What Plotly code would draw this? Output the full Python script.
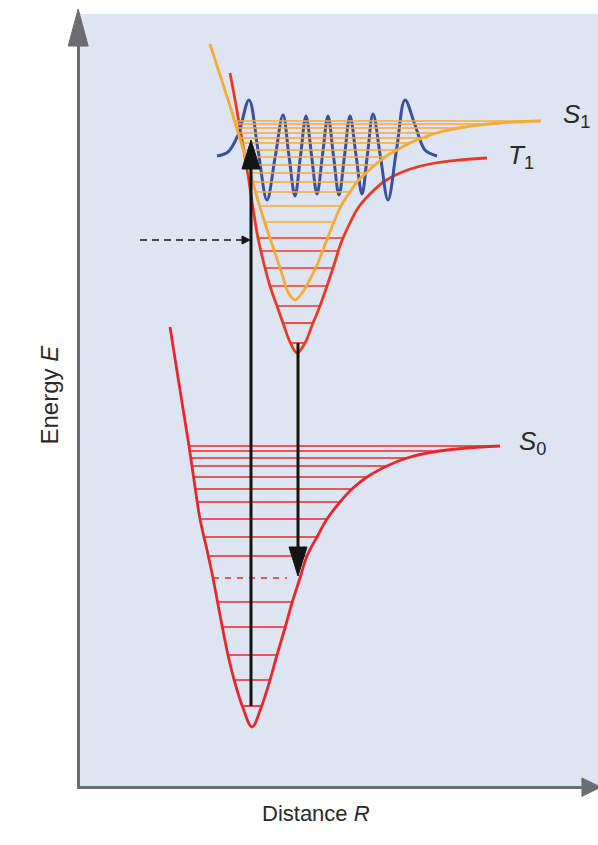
import plotly.graph_objects as go

# ---------------- data (R = distance units, E = energy units) ----------------
# Ground singlet S0 potential curve
s0_R = [90, 100, 109, 114, 120, 127, 133, 140, 148, 155, 163, 172, 181, 190, 197, 205, 212,
        220, 227, 237, 247, 260, 272, 287, 307, 327, 353, 387, 420]
s0_E = [459, 396, 340, 306, 267, 236, 208, 171, 131, 103, 78, 59, 78, 106, 131, 158, 183,
        208, 230, 249, 267, 284, 297, 309, 320, 328, 334, 338, 340]
# S0 vibrational levels
s0_lv_E = [340, 335, 328, 320, 309, 297, 284, 267, 249, 230, 184, 159, 131, 106, 80]
s0_lv_Rl = [109, 109, 110, 111, 113, 115, 117, 120, 125, 129, 137, 142, 148, 155, 162]
s0_lv_Rr = [420, 353, 327, 307, 287, 272, 260, 247, 237, 227, 212, 205, 197, 190, 182]
# dashed S0 level (emission target)
s0_dash_E = [208]
s0_dash_Rl = [133]
s0_dash_Rr = [207]

# Triplet T1 potential curve
t1_R = [150, 156, 162, 168, 173, 178, 184, 190, 197, 203, 210, 217, 225, 233, 240, 247, 254,
        261, 269, 278, 290, 305, 325, 350, 380, 407]
t1_E = [713, 681, 646, 611, 578, 548, 522, 500, 480, 463, 444, 433, 443, 463, 480, 500, 521,
        543, 561, 578, 592, 605, 615, 622, 626, 628]
t1_lv_E = [548, 535, 518, 500, 480, 463, 443]
t1_lv_Rl = [178, 180, 185, 190, 197, 203, 210]
t1_lv_Rr = [262, 259, 253, 247, 241, 234, 226]

# Excited singlet S1 potential curve
s1_R = [130, 140, 150, 160, 168, 175, 183, 193, 203, 208, 215, 222, 228, 237, 246, 254, 261,
        270, 277, 286, 295, 305, 317, 330, 345, 360, 385, 420, 461]
s1_E = [742, 711, 680, 647, 621, 596, 569, 539, 509, 494, 486, 493, 503, 521, 544, 564, 580,
        594, 604, 613, 621, 629, 636, 643, 649, 654, 659, 663, 665]
s1_lv_E = [665, 662, 658, 653, 648, 643, 636, 629, 621, 613, 604, 594, 580, 564]
s1_lv_Rl = [154, 155, 156, 158, 159, 161, 163, 165, 168, 170, 173, 176, 180, 185]
s1_lv_Rr = [461, 418, 383, 360, 348, 330, 317, 305, 295, 286, 277, 270, 261, 254]

# Vibrational wavefunction (blue): tails, peaks, troughs and crossings
wf_R = [137, 148, 158, 169, 178, 187, 195, 203, 209, 215, 220.5, 226, 231.5, 237, 242.5, 248,
        253.5, 259, 264.5, 270, 276, 282, 287.5, 293, 300.5, 308, 316.5, 325, 335, 345, 357]
wf_E = [630, 634, 651, 686, 636, 586, 628, 671, 630, 590, 630, 670, 631, 592, 631, 670,
        630, 591, 630, 670, 631, 592, 632, 672, 629, 586, 636, 686, 661, 636, 630]

# Transitions: absorption (up) and phosphorescence (down)
arrow_R = [171, 218]
arrow_E_start = [80, 443]
arrow_E_end = [646, 210]
# Intersystem-crossing dashed arrow
isc_E = 546
isc_R_start = 60
isc_R_end = 170

# Labels
label_text = ["<i>S</i><sub>1</sub>", "<i>T</i><sub>1</sub>", "<i>S</i><sub>0</sub>"]
label_R = [496, 441, 452]
label_E = [671, 630, 344]

# ---------------- styles ----------------
RED = "#e8262b"
RED2 = "#ea3a25"
ORANGE = "#f5ab35"
BLUE = "#3d4f9f"
BLACK = "#141414"
GRAY = "#6b6d70"
BG = "#dde5f2"
TXT = "#2a2a2a"
FONT = "Liberation Sans, Arial, sans-serif"


def level_xy(E, Rl, Rr):
    xs, ys = [], []
    for e, a, b in zip(E, Rl, Rr):
        xs += [a, b, None]
        ys += [e, e, None]
    return xs, ys


fig = go.Figure()

# S0 levels + curve
x, y = level_xy(s0_lv_E, s0_lv_Rl, s0_lv_Rr)
fig.add_trace(go.Scatter(x=x, y=y, mode="lines", line=dict(color=RED, width=1.7), hoverinfo="skip"))
x, y = level_xy(s0_dash_E, s0_dash_Rl, s0_dash_Rr)
fig.add_trace(go.Scatter(x=x, y=y, mode="lines", line=dict(color=RED, width=1.7, dash="6px,6px"), hoverinfo="skip"))
fig.add_trace(go.Scatter(x=s0_R, y=s0_E, mode="lines", line=dict(color=RED, width=2.8, shape="spline"), hoverinfo="skip"))

# T1 levels + curve
x, y = level_xy(t1_lv_E, t1_lv_Rl, t1_lv_Rr)
fig.add_trace(go.Scatter(x=x, y=y, mode="lines", line=dict(color=RED2, width=1.7), hoverinfo="skip"))
fig.add_trace(go.Scatter(x=t1_R, y=t1_E, mode="lines", line=dict(color=RED2, width=2.8, shape="spline"), hoverinfo="skip"))

# wavefunction
fig.add_trace(go.Scatter(x=wf_R, y=wf_E, mode="lines", line=dict(color=BLUE, width=3, shape="spline"), hoverinfo="skip"))

# S1 levels + curve
x, y = level_xy(s1_lv_E, s1_lv_Rl, s1_lv_Rr)
fig.add_trace(go.Scatter(x=x, y=y, mode="lines", line=dict(color=ORANGE, width=1.7), hoverinfo="skip"))
fig.add_trace(go.Scatter(x=s1_R, y=s1_E, mode="lines", line=dict(color=ORANGE, width=2.8, shape="spline"), hoverinfo="skip"))

# vertical transition arrows
HEAD_LEN = 29
HEAD_HW = 9
for r, e0, e1 in zip(arrow_R, arrow_E_start, arrow_E_end):
    sgn = 1 if e1 > e0 else -1
    base = e1 - sgn * HEAD_LEN
    fig.add_trace(go.Scatter(x=[r, r], y=[e0, base], mode="lines",
                             line=dict(color=BLACK, width=3), hoverinfo="skip"))
    fig.add_shape(type="path", xref="x", yref="y",
                  path=f"M {r},{e1} L {r - HEAD_HW},{base} L {r + HEAD_HW},{base} Z",
                  fillcolor=BLACK, line=dict(color=BLACK, width=1))

# dashed ISC arrow
ISC_HEAD = 8
fig.add_trace(go.Scatter(x=[isc_R_start, isc_R_end - ISC_HEAD], y=[isc_E, isc_E], mode="lines",
                         line=dict(color=BLACK, width=1.6, dash="7px,5px"), hoverinfo="skip"))
fig.add_shape(type="path", xref="x", yref="y",
              path=f"M {isc_R_end},{isc_E} L {isc_R_end - ISC_HEAD},{isc_E - 4} L {isc_R_end - ISC_HEAD},{isc_E + 4} Z",
              fillcolor=BLACK, line=dict(color=BLACK, width=1))

# axis arrowheads (paper coordinates)
fig.add_shape(type="path", xref="paper", yref="paper",
              path="M -0.0035,1.0065 L -0.0228,0.9585 L 0.0158,0.9585 Z",
              fillcolor=GRAY, line=dict(color=GRAY, width=1))
fig.add_shape(type="path", xref="paper", yref="paper",
              path="M 1.005,-0.0015 L 0.969,-0.0135 L 0.969,0.0105 Z",
              fillcolor=GRAY, line=dict(color=GRAY, width=1))

# state labels
for t, r, e in zip(label_text, label_R, label_E):
    fig.add_annotation(x=r, y=e, xref="x", yref="y", text=t, showarrow=False,
                       font=dict(family=FONT, size=26, color=TXT))

# axis titles
fig.add_annotation(x=-0.0888, y=0.5065, xref="paper", yref="paper", text="Energy <i>E</i>",
                   textangle=-90, showarrow=False, font=dict(family=FONT, size=24, color=TXT))
fig.add_annotation(x=0.4556, y=-0.0544, xref="paper", yref="paper", text="Distance <i>R</i>",
                   showarrow=False, font=dict(family=FONT, size=22, color=TXT))

axis_style = dict(showline=True, linewidth=3, linecolor=GRAY, showgrid=False, zeroline=False,
                  showticklabels=False, ticks="", fixedrange=True)
fig.update_xaxes(range=[0, 518], **axis_style)
fig.update_yaxes(range=[0, 772], **axis_style)
fig.update_layout(width=598, height=845, margin=dict(l=80, r=0, t=14, b=59),
                  plot_bgcolor=BG, paper_bgcolor="white", showlegend=False)

fig.write_html("out.html")
